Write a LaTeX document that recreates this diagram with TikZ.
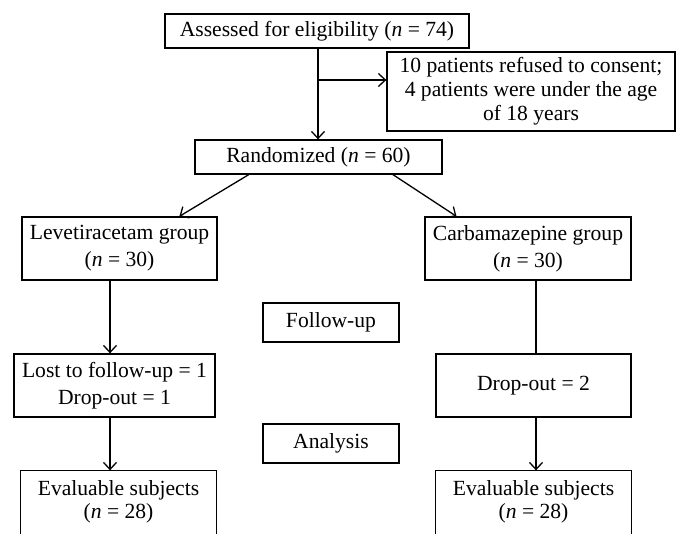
\documentclass[tikz,border=0pt]{standalone}
\usepackage{fontspec}
\setmainfont{Liberation Serif}
\usetikzlibrary{arrows.meta,calc}
\begin{document}
\begin{tikzpicture}[x=1pt,y=-1pt,
  box/.style={draw, line width=1.3pt, inner sep=0pt, align=center, font=\fontsize{21.6}{25}\selectfont},
  openbox/.style={box, draw=none},
  conn/.style={line width=1.3pt},
  arr/.style={conn, -{Straight Barb[length=7pt,width=13pt,line width=1.3pt]}}
]
\useasboundingbox[fill=white] (0,0) rectangle (689,548);
\node[box, minimum width=304pt, minimum height=34pt] (assess) at (317,31) {Assessed for eligibility (\textit{n} = 74)};
\node[box, minimum width=288pt, minimum height=79pt, font=\fontsize{21.6}{24}\selectfont] (excl) at (531,91.5) {10 patients refused to consent;\\4 patients were under the age\\of 18 years};
\node[box, minimum width=247pt, minimum height=34pt] (rand) at (318.5,157) {Randomized (\textit{n} = 60)};
\node[box, minimum width=195pt, minimum height=63pt, font=\fontsize{21.6}{27}\selectfont] (lev) at (119.5,248.5) {Levetiracetam group\\(\textit{n} = 30)};
\node[box, minimum width=206pt, minimum height=63pt, font=\fontsize{21.6}{27}\selectfont] (carb) at (528,248.5) {Carbamazepine group\\(\textit{n} = 30)};
\node[box, minimum width=136pt, minimum height=39pt] (follow) at (331,322.5) {\raisebox{4pt}{Follow-up}};
\node[box, minimum width=201pt, minimum height=63pt, font=\fontsize{21.6}{27}\selectfont] (lost) at (114.5,385.5) {Lost to follow-up = 1\\Drop-out = 1};
\node[box, minimum width=195pt, minimum height=63pt] (drop) at (533.5,385.5) {\raisebox{-4pt}{Drop-out = 2}};
\node[box, minimum width=136pt, minimum height=39pt] (analysis) at (331,443.5) {\raisebox{2pt}{Analysis}};
\node[openbox, minimum width=195pt, minimum height=62pt, font=\fontsize{21.6}{23}\selectfont] (evalL) at (118.5,502) {Evaluable subjects\\(\textit{n} = 28)};
\node[openbox, minimum width=195pt, minimum height=62pt, font=\fontsize{21.6}{23}\selectfont] (evalR) at (533.5,502) {Evaluable subjects\\(\textit{n} = 28)};
\draw[conn] (evalL.south west) -- (evalL.north west) -- (evalL.north east) -- (evalL.south east);
\draw[conn] (evalR.south west) -- (evalR.north west) -- (evalR.north east) -- (evalR.south east);
% connectors
\coordinate (mx) at (318,0);
\coordinate (br) at (318,80);
\coordinate (lx) at (110,0);
\coordinate (rx) at (536,0);
\draw[arr] (mx |- assess.south) -- (mx |- rand.north);
\draw[arr] (br) -- (br -| excl.west);
\draw[arr] ($(rand.south west)!0.219!(rand.south east)$) -- ($(lev.north west)!0.805!(lev.north east)$);
\draw[arr] ($(rand.south west)!0.80!(rand.south east)$) -- ($(carb.north west)!0.155!(carb.north east)$);
\draw[arr] (lx |- lev.south) -- (lx |- lost.north);
\draw[arr] (lx |- lost.south) -- (lx |- evalL.north);
\draw[conn] (rx |- carb.south) -- (rx |- drop.north);
\draw[arr] (rx |- drop.south) -- (rx |- evalR.north);
\end{tikzpicture}
\end{document}
